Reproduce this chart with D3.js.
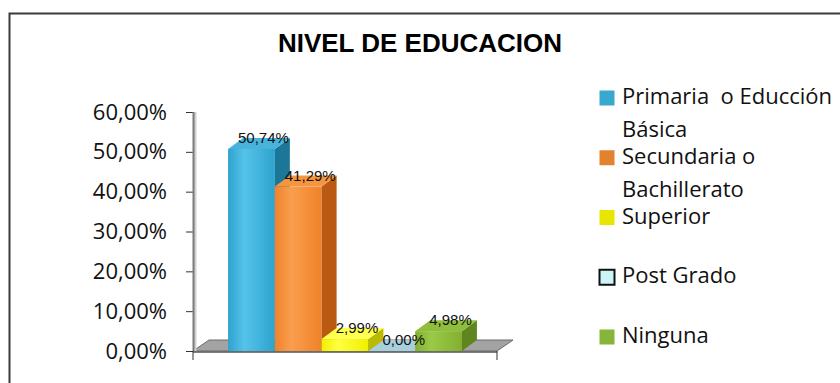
<!DOCTYPE html>
<html>
<head>
<meta charset="utf-8">
<title>Nivel de educacion</title>
<script src="https://d3js.org/d3.v7.min.js"></script>
<style>
	body {
		margin: 0;
		background: #fff;
	}
	.tick text, .legend text {
		font-family: "Open Sans", sans-serif;
		font-size: 22px;
		fill: #111;
	}
	.title {
		font-family: "Liberation Sans", Arial, sans-serif;
		font-weight: bold;
		font-size: 26px;
	}
	.value {
		font-family: "Liberation Sans", Arial, sans-serif;
		font-size: 15px;
		fill: #111;
	}
</style>
</head>
<body>
<script>
	var width = 840,
			height = 383;

	var series = ["Primaria  o Educción Básica", "Secundaria o Bachillerato", "Superior", "Post Grado", "Ninguna"];
	var legendLines = [["Primaria  o Educción", "Básica"], ["Secundaria o", "Bachillerato"], ["Superior"], ["Post Grado"], ["Ninguna"]];
	var values = [0.5074, 0.4129, 0.0299, 0.0000, 0.0498];
	var yTicks = [0, 0.1, 0.2, 0.3, 0.4, 0.5, 0.6];

	// front / side / top shades for each series
	var colors = [
		{ front: "#2EA3CE", light: "#55C3EA", side: "#1C7698", top: "#48B4DC" },
		{ front: "#F0822A", light: "#FA9E4E", side: "#BA5A12", top: "#F59540" },
		{ front: "#F0F000", light: "#FFFF40", side: "#BABA00", top: "#FFFF50" },
		{ front: "#A8CFDC", light: "#C2E2EC", side: "#86AFBD", top: "#A9CFDC" },
		{ front: "#82AF30", light: "#9BCA46", side: "#5F861E", top: "#90BE3C" }
	];
	var legendFill = ["#3AA7CF", "#E2822E", "#E6E600", "#CCF5F8", "#86B53A"];

	var depthX = 15,
			depthY = -11;

	var locale = d3.formatLocale({ decimal: ",", thousands: ".", grouping: [3], currency: ["", "€"] });
	var pct = locale.format(".2%");

	var svg = d3.select("body").append("svg")
			.attr("width", width)
			.attr("height", height);

	var defs = svg.append("defs");
	colors.forEach(function(c, i) {
		var g = defs.append("linearGradient")
				.attr("id", "grad" + i)
				.attr("x1", 0).attr("x2", 1).attr("y1", 0).attr("y2", 0);
		g.append("stop").attr("offset", "0%").attr("stop-color", c.front);
		g.append("stop").attr("offset", "35%").attr("stop-color", c.light);
		g.append("stop").attr("offset", "100%").attr("stop-color", c.front);
	});

	// chart frame
	svg.append("rect")
			.attr("x", 9.5)
			.attr("y", 13.5)
			.attr("width", 900)
			.attr("height", 400)
			.attr("fill", "none")
			.attr("stroke", "#3a3a3a")
			.attr("stroke-width", 2);

	svg.append("text")
			.attr("class", "title")
			.attr("x", 420)
			.attr("y", 52)
			.attr("text-anchor", "middle")
			.text("NIVEL DE EDUCACION");

	var y = d3.scaleLinear()
			.domain([0, 0.6])
			.range([351, 112]);

	var x = d3.scaleBand()
			.domain(series)
			.range([193, 497])
			.paddingInner(0)
			.paddingOuter(0.75);

	var x0 = 193, x1 = 497, y0 = y(0);

	// floor
	svg.append("path")
			.attr("d", "M" + x0 + "," + y0 + "L" + x1 + "," + y0 +
				"L" + (x1 + depthX + 1) + "," + (y0 + depthY) +
				"L" + (x0 + depthX + 1) + "," + (y0 + depthY) + "Z")
			.attr("fill", "#A3A3A3")
			.attr("stroke", "#6a6a6a")
			.attr("stroke-width", 1);
	svg.append("line")
			.attr("x1", x0).attr("x2", x1)
			.attr("y1", y0 + 1).attr("y2", y0 + 1)
			.attr("stroke", "#555").attr("stroke-width", 1.5);

	// category axis ticks
	svg.selectAll(".ctick")
			.data([x0, x1])
		.enter().append("line")
			.attr("x1", function(d) { return d; })
			.attr("x2", function(d) { return d; })
			.attr("y1", y0)
			.attr("y2", y0 + 9)
			.attr("stroke", "#333");

	// y axis
	var yAxis = svg.append("g")
			.attr("transform", "translate(" + x0 + ",0)")
			.call(d3.axisLeft(y).tickValues(yTicks).tickSize(7).tickPadding(19).tickFormat(pct));
	yAxis.select(".domain").remove();
	yAxis.selectAll(".tick line").attr("stroke", "#333");
	yAxis.append("line")
			.attr("x1", 2).attr("x2", 2)
			.attr("y1", y(0.6)).attr("y2", y0)
			.attr("stroke", "#d0d0d0").attr("stroke-width", 3);
	yAxis.append("line")
			.attr("x1", 0.5).attr("x2", 0.5)
			.attr("y1", y(0.6)).attr("y2", y0)
			.attr("stroke", "#7a7a7a").attr("stroke-width", 2);

	var data = series.map(function(s, i) { return { name: s, value: values[i], i: i }; });

	// bars
	var bars = svg.append("g").selectAll(".bar")
			.data(data)
		.enter().append("g")
			.attr("class", "bar");

	bars.each(function(d) {
		var g = d3.select(this),
				bx = x(d.name),
				bw = x.bandwidth(),
				top = y(d.value),
				c = colors[d.i];
		if (d.value > 0) {
			g.append("rect")
					.attr("x", bx)
					.attr("y", top)
					.attr("width", bw)
					.attr("height", y0 - top)
					.attr("fill", "url(#grad" + d.i + ")");
			g.append("path")
					.attr("d", "M" + (bx + bw) + "," + top + "L" + (bx + bw + depthX) + "," + (top + depthY) +
						"L" + (bx + bw + depthX) + "," + (y0 + depthY) + "L" + (bx + bw) + "," + y0 + "Z")
					.attr("fill", c.side);
		}
		g.append("path")
				.attr("d", "M" + bx + "," + top + "L" + (bx + depthX) + "," + (top + depthY) +
					"L" + (bx + bw + depthX) + "," + (top + depthY) + "L" + (bx + bw) + "," + top + "Z")
				.attr("fill", c.top);
	});

	// value labels, drawn above every bar
	svg.append("g").selectAll("text")
			.data(data)
		.enter().append("text")
			.attr("class", "value")
			.attr("x", function(d) { return x(d.name) + x.bandwidth() / 2 + 12; })
			.attr("y", function(d) { return y(d.value) - 6; })
			.attr("text-anchor", "middle")
			.text(function(d) { return pct(d.value); });

	// legend
	var legend = svg.append("g")
			.attr("class", "legend");

	var item = legend.selectAll("g")
			.data(series)
		.enter().append("g")
			.attr("transform", function(d, i) { return "translate(599," + (98 + i * 59.75) + ")"; });

	item.append("rect")
			.attr("x", 0.5)
			.attr("y", -7.5)
			.attr("width", 15)
			.attr("height", 15)
			.attr("fill", function(d, i) { return legendFill[i]; })
			.attr("stroke", function(d, i) { return i === 3 ? "#111" : "none"; })
			.attr("stroke-width", 2);

	item.append("text")
			.attr("x", 23)
			.attr("y", 6)
			.style("white-space", "pre")
			.selectAll("tspan")
			.data(function(d, i) { return legendLines[i]; })
		.enter().append("tspan")
			.attr("x", 23)
			.attr("dy", function(d, j) { return j === 0 ? 0 : 33; })
			.text(function(d) { return d; });
</script>
</body>
</html>
